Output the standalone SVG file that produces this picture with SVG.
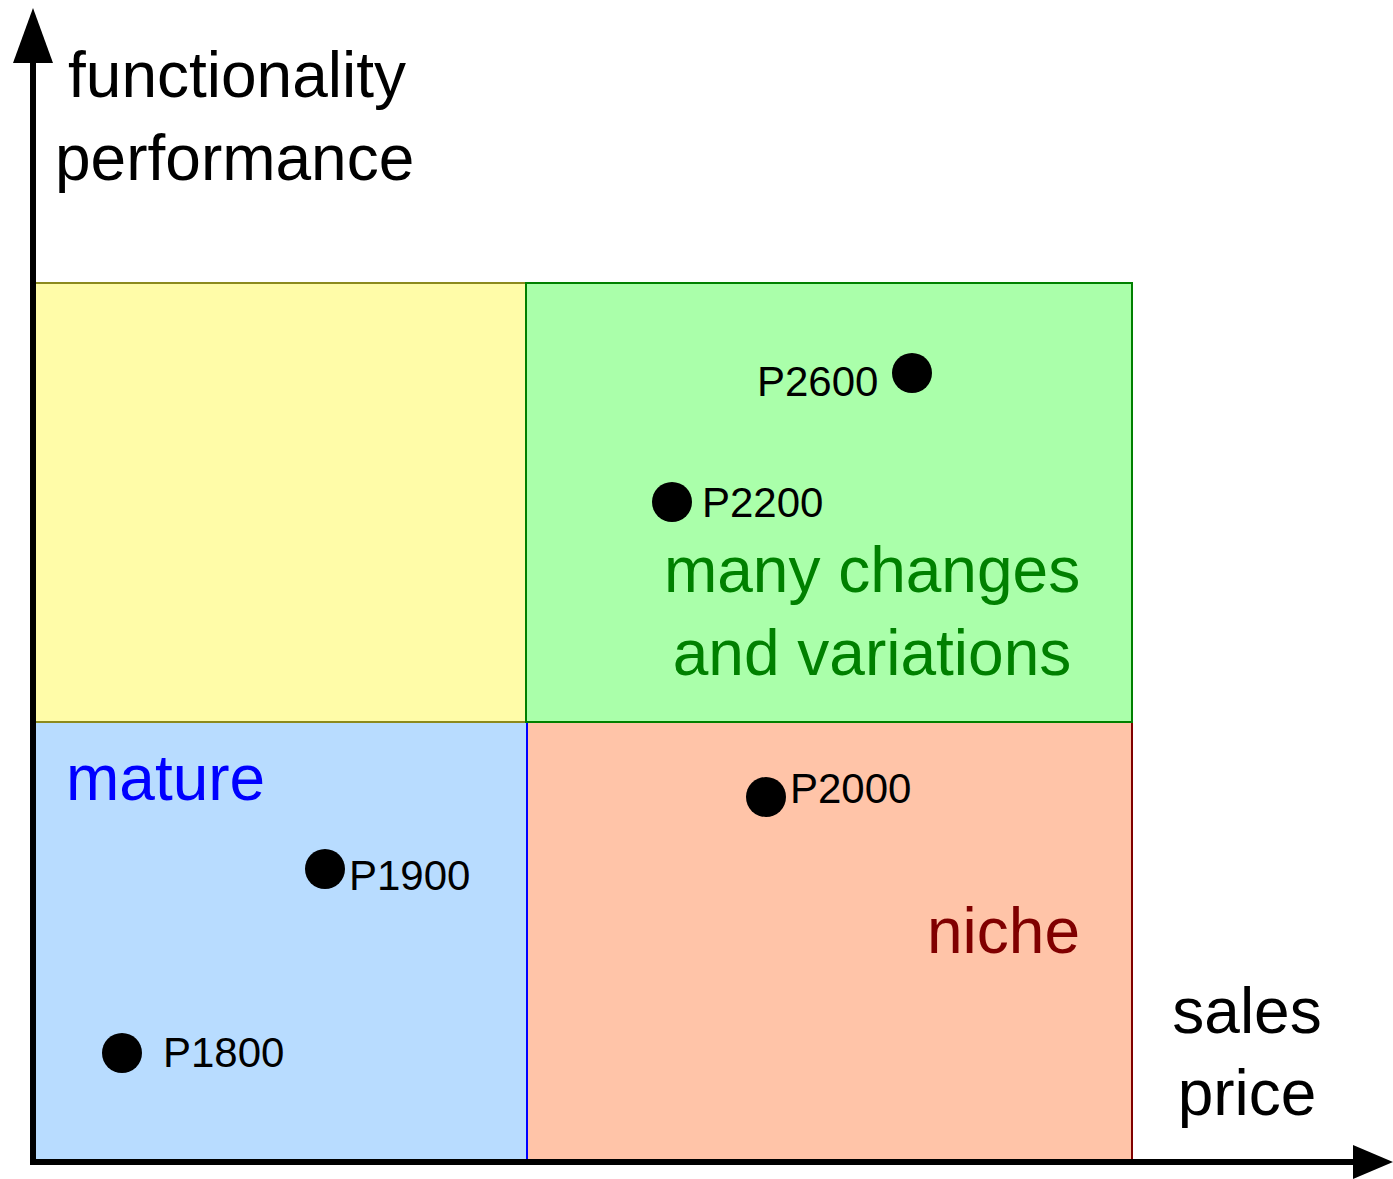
<svg xmlns="http://www.w3.org/2000/svg" width="1393" height="1179" viewBox="0 0 1393 1179">
  <style>
    text { font-family: "Liberation Sans", Arial, sans-serif; }
    .axis-label { font-size: 64px; fill: #000; }
    .region-label { font-size: 64px; }
    .prod { font-size: 42px; fill: #000; }
    .dot { fill: #000; }
    .axis { stroke: #000; stroke-width: 6; fill: none; }
  </style>
  <defs>
    <marker id="arrow-y" viewBox="0 0 55 40" refX="0" refY="20" markerWidth="55" markerHeight="40" markerUnits="userSpaceOnUse" orient="auto">
      <path d="M0,0 L55,20 L0,40 Z" fill="#000"/>
    </marker>
    <marker id="arrow-x" viewBox="0 0 40 34" refX="0" refY="17" markerWidth="40" markerHeight="34" markerUnits="userSpaceOnUse" orient="auto">
      <path d="M0,0 L40,17 L0,34 Z" fill="#000"/>
    </marker>
  </defs>

  <!-- quadrants (drawn bottom-right first so shared edges take the later colour) -->
  <g id="q-bottom-right">
    <rect x="526" y="722" width="606" height="438" fill="#ffc4a8" stroke="#800000" stroke-width="2"/>
    <text class="region-label" x="1080" y="953" text-anchor="end" fill="#800000">niche</text>
  </g>
  <g id="q-bottom-left">
    <rect x="33" y="722" width="494" height="438" fill="#b8dcff" stroke="#0000ff" stroke-width="2"/>
    <text class="region-label" x="66" y="800" fill="#0000ff">mature</text>
  </g>
  <g id="q-top-left">
    <rect x="33" y="283" width="493" height="439" fill="#fffca8" stroke="#8c8a1e" stroke-width="2"/>
  </g>
  <g id="q-top-right">
    <rect x="526" y="283" width="606" height="439" fill="#aaffaa" stroke="#008000" stroke-width="2"/>
    <text class="region-label" x="872" y="592" text-anchor="middle" fill="#008000">many changes</text>
    <text class="region-label" x="872" y="675" text-anchor="middle" fill="#008000">and variations</text>
  </g>

  <!-- axes -->
  <g id="connectors">
    <line class="axis" x1="33" y1="1165" x2="33" y2="63" marker-end="url(#arrow-y)"/>
    <line class="axis" x1="30" y1="1162" x2="1353" y2="1162" marker-end="url(#arrow-x)"/>
  </g>

  <g id="y-label">
    <text class="axis-label" x="68" y="97">functionality</text>
    <text class="axis-label" x="55" y="180">performance</text>
  </g>
  <g id="x-label">
    <text class="axis-label" x="1247" y="1033" text-anchor="middle">sales</text>
    <text class="axis-label" x="1247" y="1115" text-anchor="middle">price</text>
  </g>

  <!-- products -->
  <g id="p2600">
    <circle class="dot" cx="912" cy="373" r="20"/>
    <text class="prod" x="757" y="396">P2600</text>
  </g>
  <g id="p2200">
    <circle class="dot" cx="672" cy="502" r="20"/>
    <text class="prod" x="702" y="517">P2200</text>
  </g>
  <g id="p2000">
    <circle class="dot" cx="766" cy="797" r="20"/>
    <text class="prod" x="790" y="803">P2000</text>
  </g>
  <g id="p1900">
    <circle class="dot" cx="325" cy="869" r="20"/>
    <text class="prod" x="349" y="890">P1900</text>
  </g>
  <g id="p1800">
    <circle class="dot" cx="122" cy="1053" r="20"/>
    <text class="prod" x="163" y="1067">P1800</text>
  </g>
</svg>
